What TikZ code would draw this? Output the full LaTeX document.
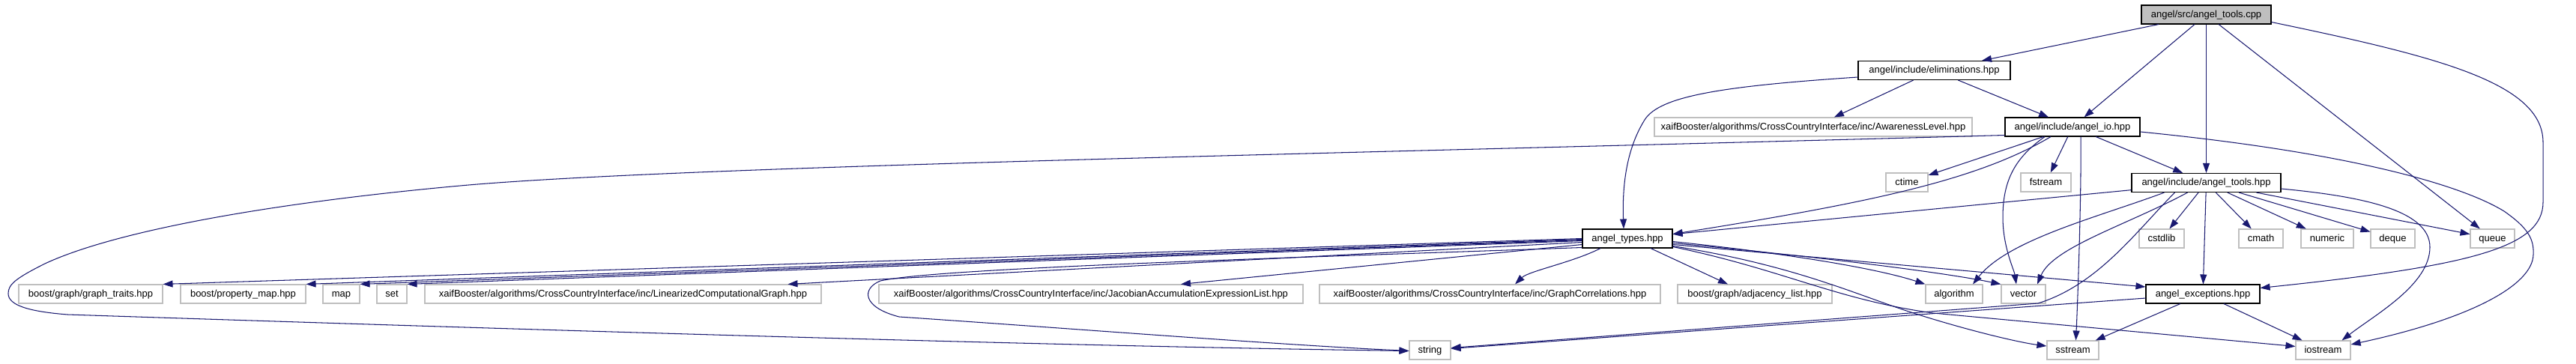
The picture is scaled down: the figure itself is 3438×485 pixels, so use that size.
\documentclass[tikz,border=0pt]{standalone}
\usepackage{fontspec}
\setmainfont{Liberation Sans}
\usetikzlibrary{arrows.meta}
\definecolor{edgecol}{RGB}{25,25,112}
\definecolor{extgray}{RGB}{191,191,191}
\begin{document}
\begin{tikzpicture}[x=1pt,y=-1pt,
  box/.style={draw, line width=1.1pt, minimum height=25pt, inner sep=0pt,
    font=\fontsize{13}{15}\selectfont, text height=9.5pt, text depth=2.5pt},
  doc/.style={box, draw=black},
  ext/.style={box, draw=extgray},
  dep/.style={draw=edgecol, line width=1.05pt, -{Triangle[length=13pt,width=9pt]}}]
\fill[white] (0,0) rectangle (3438,485);
\useasboundingbox (0,0) rectangle (3438,485);
% nodes
\node[doc, fill=extgray, minimum width=173pt] (cpp) at (2944.5,19.5) {angel/src/angel\_tools.cpp};
\node[doc, minimum width=203pt] (elim) at (2581.5,94) {angel/include/eliminations.hpp};
\node[ext, minimum width=424pt] (aware) at (2420,169.5) {xaifBooster/algorithms/CrossCountryInterface/inc/AwarenessLevel.hpp};
\node[doc, minimum width=180pt] (io) at (2766,169.5) {angel/include/angel\_io.hpp};
\node[ext, minimum width=56pt] (ctime) at (2545,243.5) {ctime};
\node[ext, minimum width=67pt] (fstream) at (2730.5,243.5) {fstream};
\node[doc, minimum width=199pt] (tools) at (2944.5,244) {angel/include/angel\_tools.hpp};
\node[doc, minimum width=120pt] (types) at (2172,318.5) {angel\_types.hpp};
\node[ext, minimum width=60pt] (cstdlib) at (2885,318.5) {cstdlib};
\node[ext, minimum width=59pt] (cmath) at (3017.5,318.5) {cmath};
\node[ext, minimum width=70pt] (numeric) at (3106,318.5) {numeric};
\node[ext, minimum width=59pt] (deque) at (3193.5,318.5) {deque};
\node[ext, minimum width=59pt] (queue) at (3326.5,318.5) {queue};
\node[ext, minimum width=192pt] (gtraits) at (121,392.5) {boost/graph/graph\_traits.hpp};
\node[ext, minimum width=167pt] (pmap) at (324.5,392.5) {boost/property\_map.hpp};
\node[ext, minimum width=49pt] (map) at (455.5,392.5) {map};
\node[ext, minimum width=40pt] (set) at (523,392.5) {set};
\node[ext, minimum width=529pt] (lcg) at (831.5,392.5) {xaifBooster/algorithms/CrossCountryInterface/inc/LinearizedComputationalGraph.hpp};
\node[ext, minimum width=566pt] (jacl) at (1456,392.5) {xaifBooster/algorithms/CrossCountryInterface/inc/JacobianAccumulationExpressionList.hpp};
\node[ext, minimum width=455pt] (gcorr) at (1988.5,392.5) {xaifBooster/algorithms/CrossCountryInterface/inc/GraphCorrelations.hpp};
\node[ext, minimum width=206pt] (adjl) at (2342,392.5) {boost/graph/adjacency\_list.hpp};
\node[ext, minimum width=76pt] (algo) at (2608,392.5) {algorithm};
\node[ext, minimum width=59pt] (vector) at (2700.5,392.5) {vector};
\node[doc, minimum width=152pt] (exc) at (2940,392.5) {angel\_exceptions.hpp};
\node[ext, minimum width=55pt] (string) at (1908.5,467.5) {string};
\node[ext, minimum width=69pt] (sstream) at (2766.5,467.5) {sstream};
\node[ext, minimum width=73pt] (iostream) at (3100.5,467.5) {iostream};
% edges from angel_tools.cpp
\draw[dep] (cpp) -- (elim);
\draw[dep] (cpp) -- (io);
\draw[dep] (cpp) -- (tools);
\draw[dep] (cpp) -- (queue);
\draw[dep] ([yshift=-10pt]cpp.east) .. controls (3250,75) and (3394,110) .. (3394,190)
  -- (3394,270) .. controls (3394,330) and (3300,355) .. ([yshift=8pt]exc.east);
% edges from eliminations.hpp
\draw[dep] (elim) -- (aware);
\draw[dep] (elim) -- (io);
\draw[dep] ([yshift=-9pt]elim.west) .. controls (2300,115) and (2215,128) .. (2195,160)
  .. controls (2170,200) and (2165,250) .. ([xshift=-5pt]types.north);
% edges from angel_io.hpp
\draw[dep] ([yshift=-11pt]io.west) .. controls (1800,205) and (900,222) .. (614,248)
  .. controls (350,272) and (150,310) .. (60,352)
  .. controls (20,372) and (11,380) .. (11,392)
  .. controls (11,408) and (40,416) .. (90,420)
  .. controls (700,440) and (1400,462) .. ([yshift=-1pt]string.west);
\draw[dep] (io) -- (ctime);
\draw[dep] ([xshift=-29pt]io.south) .. controls (2640,240) and (2500,270) .. ([yshift=6pt]types.east);
\draw[dep] (io) -- (fstream);
\draw[dep] ([xshift=-37pt]io.south) .. controls (2690,210) and (2673,240) .. (2673,290)
  .. controls (2673,330) and (2688,360) .. ([xshift=-9.5pt]vector.north);
\draw[dep] ([xshift=11pt]io.south) .. controls (2778,260) and (2773,400) .. ([xshift=4pt]sstream.north);
\draw[dep] (io) -- (tools);
\draw[dep] ([yshift=-6.5pt]io.east) .. controls (3150,205) and (3290,250) .. (3342,282)
  .. controls (3375,305) and (3382,320) .. (3381,340)
  .. controls (3380,380) and (3300,425) .. ([yshift=7.5pt]iostream.east);
% edges from angel_tools.hpp
\draw[dep] (tools) -- (types);
\draw[dep] (tools) -- (cstdlib);
\draw[dep] (tools) -- (cmath);
\draw[dep] (tools) -- (numeric);
\draw[dep] (tools) -- (deque);
\draw[dep] (tools) -- (queue);
\draw[dep] (tools) -- (exc);
\draw[dep] ([yshift=-8pt]tools.east) .. controls (3150,262) and (3243,280) .. (3243,330)
  .. controls (3243,380) and (3170,420) .. ([xshift=25pt]iostream.north);
\draw[dep] ([xshift=-56pt]tools.south) .. controls (2800,290) and (2680,320) .. ([xshift=25pt]algo.north);
\draw[dep] ([xshift=-25pt]tools.south) .. controls (2840,300) and (2740,330) .. ([xshift=18.5pt]vector.north);
\draw[dep] ([xshift=-42pt]tools.south) .. controls (2850,310) and (2800,380) .. (2720,405)
  -- ([yshift=3pt]string.east);
% edges from angel_types.hpp
\draw[dep] (types.west) -- (gtraits.north east);
\draw[dep] ([yshift=-1pt]types.west) -- (pmap.north east);
\draw[dep] ([yshift=-2pt]types.west) -- (map.north east);
\draw[dep] ([yshift=-3pt]types.west) -- (set.north east);
\draw[dep] ([yshift=-5pt]types.west) -- ([xshift=220pt]lcg.north);
\draw[dep] ([yshift=-8pt]types.west) -- ([xshift=120pt]jacl.north);
\draw[dep] ([xshift=-36pt]types.south) .. controls (2100,350) and (2040,362) .. ([xshift=33.5pt]gcorr.north);
\draw[dep] ([xshift=31pt]types.south) -- ([xshift=-36pt]adjl.north);
\draw[dep] ([yshift=-4pt]types.east) .. controls (2400,340) and (2510,360) .. (algo.north west);
\draw[dep] ([yshift=-6pt]types.east) .. controls (2450,345) and (2600,365) .. (vector.north west);
\draw[dep] ([yshift=-8pt]types.east) -- ([yshift=9.5pt]exc.west);
\draw[dep] ([yshift=-10pt]types.east) .. controls (2400,355) and (2480,395) .. (2560,420)
  .. controls (2640,445) and (2700,458) .. ([yshift=5.5pt]sstream.west);
\draw[dep] ([yshift=-11pt]types.east) .. controls (2380,360) and (2450,400) .. (2580,418)
  -- ([yshift=5pt]iostream.west);
\draw[dep] ([yshift=-12pt]types.west) .. controls (1700,345) and (1250,358) .. (1175,375)
  .. controls (1150,385) and (1150,410) .. (1200,423)
  .. controls (1450,440) and (1700,460) .. ([yshift=-1pt]string.west);
% edges from angel_exceptions.hpp
\draw[dep] (exc) -- (string);
\draw[dep] (exc) -- (sstream);
\draw[dep] (exc) -- (iostream);
\end{tikzpicture}
\end{document}
